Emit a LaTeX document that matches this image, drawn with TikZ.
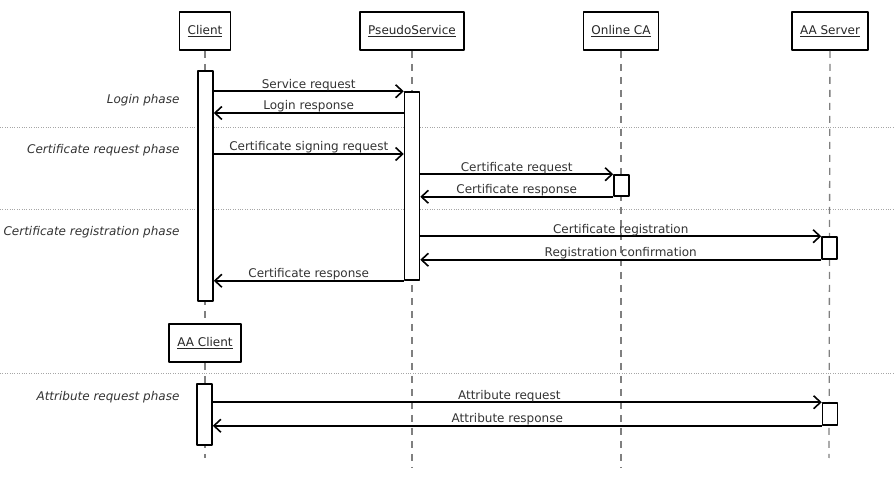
\documentclass[tikz,border=0pt]{standalone}
\usepackage{fontspec}
\setmainfont{DejaVu Sans}
\usetikzlibrary{arrows.meta}

\begin{document}
\begin{tikzpicture}[x=1pt, y=-1pt, line join=round, font=\fontsize{12}{14}\selectfont,
	obj/.style={draw, line width=1.7pt, minimum height=38pt, inner xsep=8pt, text=black!85},
	actbar/.style={draw, fill=white, line width=1.5pt, minimum width=15pt, inner sep=0pt},
	life/.style={gray, line width=1.3pt, dash pattern=on 7pt off 6pt},
	msg/.style={line width=1.6pt, -{Straight Barb[length=7pt, width=13pt, line width=1.6pt]}},
	lbl/.style={midway, anchor=base, yshift=3pt, inner sep=0pt, text=black!80},
	phase/.style={anchor=east, font=\fontsize{12}{14}\selectfont\itshape, text=black!80}]

	\useasboundingbox (0,0) rectangle (895,478);

	% Objects
	\node[obj] (client) at (205,31) {\underline{Client}};
	\node[obj] (pseudo) at (412,31) {\underline{PseudoService}};
	\node[obj] (ca) at (621,31) {\underline{Online CA}};
	\node[obj] (aas) at (830,31) {\underline{AA Server}};
	\node[obj] (aac) at (205,343) {\underline{AA Client}};

	% Lifeline ends
	\coordinate (clientEnd) at (205,458);
	\coordinate (pseudoEnd) at (412,467);
	\coordinate (caEnd) at (621,467);
	\coordinate (aasEnd) at (829,458);

	% Separators between phases
	\foreach \y in {127, 209, 373} {
		\draw[dotted, gray!70, thin] (0,\y) -- (895,\y);
	}

	% Lifelines
	\draw[life] (client) -- (aac);
	\draw[life] (aac) -- (clientEnd);
	\draw[life] (pseudo) -- (pseudoEnd);
	\draw[life] (ca) -- (caEnd);
	\draw[life] (aas) -- (aasEnd);

	% Activation bars
	\node[actbar, minimum height=230pt] (clientBar) at (205.5,186) {};
	\node[actbar, minimum height=188pt] (pseudoBar) at (412,186) {};
	\node[actbar, minimum height=21pt] (caBar) at (621.5,185.5) {};
	\node[actbar, minimum height=22pt] (aasBarA) at (829.5,248) {};
	\node[actbar, minimum height=61pt] (aacBar) at (204.5,414.5) {};
	\node[actbar, minimum height=22pt] (aasBarB) at (830,414) {};

	% Phase names
	\node[phase] (login) at (183,100) {Login phase};
	\node[phase] (certreq) at (183,150) {Certificate request phase};
	\node[phase] (certreg) at (183,232) {Certificate registration phase};
	\node[phase] (attrreq) at (183,397) {Attribute request phase};

	% Messages
	\draw[msg] (clientBar.east |- pseudoBar.north west) -- (pseudoBar.north west) node[lbl] {Service request};
	\draw[msg] (pseudoBar.west |- 0,113) -- (clientBar.east |- 0,113) node[lbl] {Login response};
	\draw[msg] (clientBar.east |- 0,154) -- (pseudoBar.west |- 0,154) node[lbl] {Certificate signing request};
	\draw[msg] (pseudoBar.east |- caBar.north west) -- (caBar.north west) node[lbl] {Certificate request};
	\draw[msg] (caBar.south west) -- (pseudoBar.east |- caBar.south west) node[lbl] {Certificate response};
	\draw[msg] (pseudoBar.east |- aasBarA.north west) -- (aasBarA.north west) node[lbl] {Certificate registration};
	\draw[msg] (aasBarA.south west) -- (pseudoBar.east |- aasBarA.south west) node[lbl] {Registration confirmation};
	\draw[msg] (pseudoBar.south west) -- (clientBar.east |- pseudoBar.south west) node[lbl] {Certificate response};
	\draw[msg] (aacBar.east |- aasBarB.north west) -- (aasBarB.north west) node[lbl, xshift=-8pt] {Attribute request};
	\draw[msg] (aasBarB.south west) -- (aacBar.east |- aasBarB.south west) node[lbl, xshift=-10pt] {Attribute response};
\end{tikzpicture}
\end{document}
